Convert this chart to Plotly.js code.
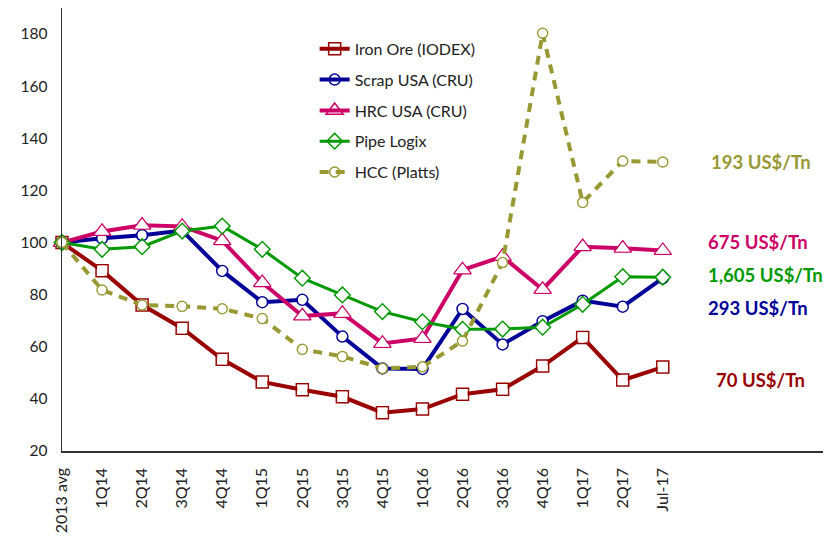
<!DOCTYPE html>
<html><head><meta charset="utf-8">
<script src="https://cdn.plot.ly/plotly-3.0.1.min.js"></script>
<style>html,body{margin:0;padding:0;background:#fff}#c{width:839px;height:545px}</style>
</head><body><div id="c"></div>
<script>
const categories = ["2013 avg","1Q14","2Q14","3Q14","4Q14","1Q15","2Q15","3Q15","4Q15","1Q16","2Q16","3Q16","4Q16","1Q17","2Q17","Jul-17"];
const ironOre  = [100, 89.2, 76.0, 67.1, 55.2, 46.5, 43.5, 40.8, 34.7, 36.1, 41.8, 43.7, 52.6, 63.6, 47.2, 52.2];
const scrapUSA = [100, 101.6, 102.8, 104.6, 89.1, 77.1, 78.0, 63.9, 51.7, 51.5, 74.5, 60.9, 69.8, 77.7, 75.4, 86.3];
const hrcUSA   = [100, 104.2, 106.6, 106.2, 100.7, 84.6, 71.8, 72.8, 61.3, 63.2, 89.5, 94.6, 82.0, 98.4, 97.8, 96.9];
const pipeLogix= [100, 97.4, 98.4, 104.4, 106.3, 97.4, 86.3, 79.9, 73.5, 69.6, 66.7, 66.8, 67.5, 76.3, 86.9, 86.7];
const hcc      = [100, 81.8, 76.0, 75.5, 74.6, 70.8, 59.0, 56.3, 51.7, 52.3, 62.2, 92.3, 180.3, 115.4, 131.3, 130.9];
const seriesNames = ["Iron Ore (IODEX)","Scrap USA (CRU)","HRC USA (CRU)","Pipe Logix","HCC (Platts)"];
const endLabels = ["70 US$/Tn","293 US$/Tn","675 US$/Tn","1,605 US$/Tn","193 US$/Tn"];
const yTicks = [20,40,60,80,100,120,140,160,180];

const colors = ["#990000","#000099","#CC0066","#009900","#999933"];
const symbols = ["square-open","circle-open","triangle-up-open","diamond-open","circle-open"];
const sizes = [12,11,15,12,10];
const widths = [4,4,4,3,4];
const dashes = ["solid","solid","solid","solid","9px,7px"];
const data = [ironOre, scrapUSA, hrcUSA, pipeLogix, hcc];

const traces = data.map((ys,i)=>({
  type:'scatter', mode:'lines+markers', x:categories, y:ys, name:seriesNames[i],
  legendgroup:'g'+i, cliponaxis:false,
  line:{color:colors[i], width:widths[i], dash:dashes[i]},
  marker:{symbol:symbols[i], size:sizes[i], color:colors[i], line:{width:1.5, color:colors[i]}}
}));
const fills = data.map((ys,i)=>({
  type:'scatter', mode:'markers', x:categories, y:ys, showlegend:false, hoverinfo:'skip', cliponaxis:false,
  marker:{symbol:symbols[i].replace('-open',''), size:sizes[i]-2, color:'#ffffff'}
}));
const all=[];
for(let i=0;i<5;i++){all.push(traces[i]);all.push(fills[i]);}

const labelY = [380, 308, 242, 275, 162];
const labelX = [760, 758, 758, 765, 761];
const annotations = endLabels.map((t,i)=>({
  text:'<b>'+t+'</b>', xref:'paper', yref:'paper',
  x:(labelX[i]-62)/761, y:1-(labelY[i]-8)/443, xanchor:'center', yanchor:'middle',
  showarrow:false, font:{family:'Lato, sans-serif', size:18.5, color:colors[i]}
}));

const layout = {
  width:839, height:545,
  margin:{l:62, r:16, t:8, b:94},
  paper_bgcolor:'#fff', plot_bgcolor:'#fff',
  font:{family:'Lato, sans-serif', size:15, color:'#222'},
  showlegend:true,
  legend:{x:0.332, y:0.946, xanchor:'left', yanchor:'top', traceorder:'grouped', tracegroupgap:7,
          font:{size:16, color:'#222'}, bgcolor:'rgba(0,0,0,0)'},
  xaxis:{type:'category', categoryarray:categories, range:[0,19], showline:true, linecolor:'#333', linewidth:1.5,
         ticks:'', tickangle:-90, showgrid:false, zeroline:false, tickfont:{size:16, color:'#222'}, ticklabelstandoff:9},
  yaxis:{range:[20,190], tickvals:yTicks, showline:true, linecolor:'#333', linewidth:1.5, ticks:'',
         showgrid:false, zeroline:false, tickfont:{size:15.5, color:'#222'}, ticklabelstandoff:10},
  annotations:annotations
};
Plotly.newPlot('c', all, layout, {displayModeBar:false, staticPlot:true});
</script></body></html>
